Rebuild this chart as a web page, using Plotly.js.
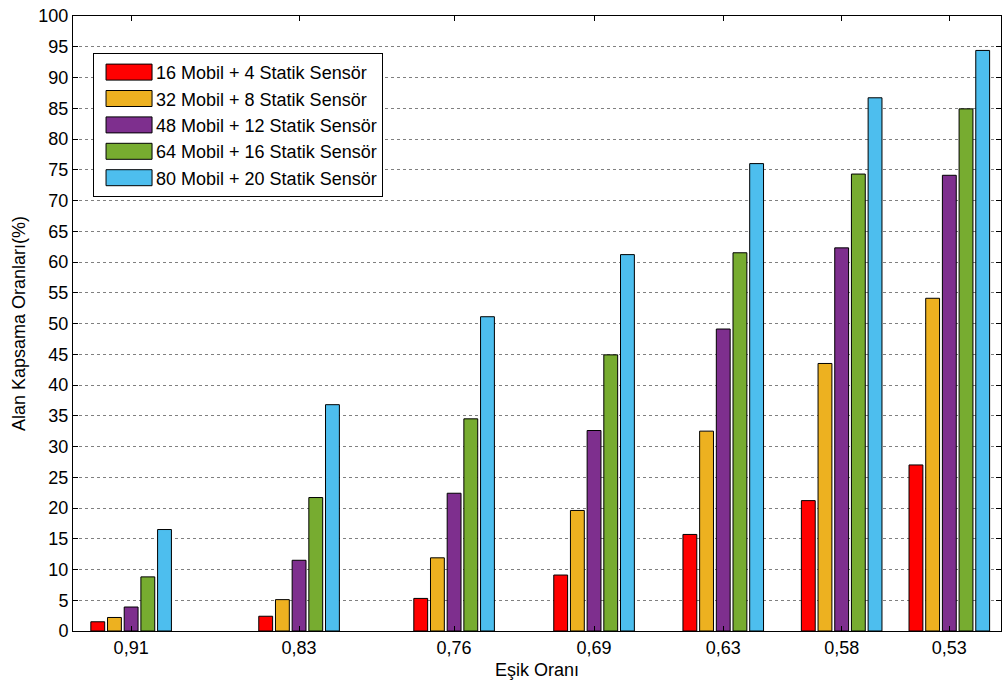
<!DOCTYPE html>
<html><head><meta charset="utf-8">
<script src="https://cdn.plot.ly/plotly-3.0.1.min.js"></script>
<style>html,body{margin:0;padding:0;background:#fff}#chart{width:1004px;height:681px}</style>
</head><body><div id="chart"></div>
<script>
// Threshold positions (numeric x axis) and their printed labels
const thresholds = [0.91, 0.832, 0.76, 0.695, 0.635, 0.58, 0.53];
const tickLabels = ['0,91', '0,83', '0,76', '0,69', '0,63', '0,58', '0,53'];

const seriesNames = [
  '16 Mobil + 4 Statik Sensör',
  '32 Mobil + 8 Statik Sensör',
  '48 Mobil + 12 Statik Sensör',
  '64 Mobil + 16 Statik Sensör',
  '80 Mobil + 20 Statik Sensör'
];
const s16 = [1.5, 2.4, 5.3, 9.1, 15.7, 21.2, 27.0];
const s32 = [2.2, 5.1, 11.9, 19.6, 32.5, 43.5, 54.1];
const s48 = [3.9, 11.5, 22.4, 32.6, 49.1, 62.3, 74.1];
const s64 = [8.8, 21.7, 34.5, 44.9, 61.5, 74.3, 84.9];
const s80 = [16.5, 36.8, 51.1, 61.2, 76.0, 86.7, 94.4];
const seriesValues = [s16, s32, s48, s64, s80];
const colors = ['#FF0000', '#EDB120', '#7E2F8E', '#77AC30', '#4DBEEE'];

const yTicks = [];
for (let v = 0; v <= 100; v += 5) yTicks.push(v);

const FONT = 'Liberation Sans, Arial, sans-serif';

// the x axis runs right-to-left, so add traces in reverse order to keep
// red leftmost inside each group; legend order is reversed back.
const traces = seriesValues.map((vals, i) => ({
  type: 'bar',
  name: seriesNames[i],
  x: thresholds,
  y: vals,
  marker: {color: colors[i], line: {color: '#000', width: 1}},
  hoverinfo: 'skip'
})).reverse();

const layout = {
  width: 1004, height: 681,
  margin: {l: 73, r: 3, t: 16, b: 50},
  paper_bgcolor: '#fff', plot_bgcolor: '#fff',
  font: {family: FONT, size: 18, color: '#000'},
  barmode: 'group',
  bargap: 0.225,
  bargroupgap: 0.17,
  showlegend: true,
  legend: {
    x: 0.0216, y: 0.94, xanchor: 'left', yanchor: 'top',
    traceorder: 'reversed',
    bgcolor: '#fff', bordercolor: '#000', borderwidth: 1,
    font: {family: FONT, size: 18, color: '#000'},
    itemwidth: 52, tracegroupgap: 0
  },
  xaxis: {
    range: [0.937, 0.506],
    tickmode: 'array', tickvals: thresholds, ticktext: tickLabels,
    ticks: 'inside', ticklen: 5, tickcolor: '#000', tickwidth: 1,
    showline: true, linecolor: '#000', linewidth: 1, mirror: 'ticks',
    showgrid: false, zeroline: false,
    tickfont: {family: FONT, size: 18, color: '#000'},
    title: {text: 'Eşik Oranı', font: {family: FONT, size: 18, color: '#000'}, standoff: 6}
  },
  yaxis: {
    range: [0, 100],
    tickmode: 'array', tickvals: yTicks,
    ticks: 'inside', ticklen: 5, tickcolor: '#000', tickwidth: 1,
    showline: true, linecolor: '#000', linewidth: 1, mirror: 'ticks',
    showgrid: true, gridcolor: '#808080', gridwidth: 1, griddash: 'dot',
    zeroline: false,
    tickfont: {family: FONT, size: 18, color: '#000'},
    title: {text: 'Alan Kapsama Oranları(%)', font: {family: FONT, size: 18, color: '#000'}, standoff: 8}
  }
};

Plotly.newPlot('chart', traces, layout, {displayModeBar: false, staticPlot: true}).then(function () {
  // enlarge legend swatches to match the wide MATLAB-style patches
  document.querySelectorAll('.legend .legendpoints path').forEach(function (p) {
    p.setAttribute('d', 'M27,8H-19V-8H27Z');
  });
});
</script>
</body></html>
